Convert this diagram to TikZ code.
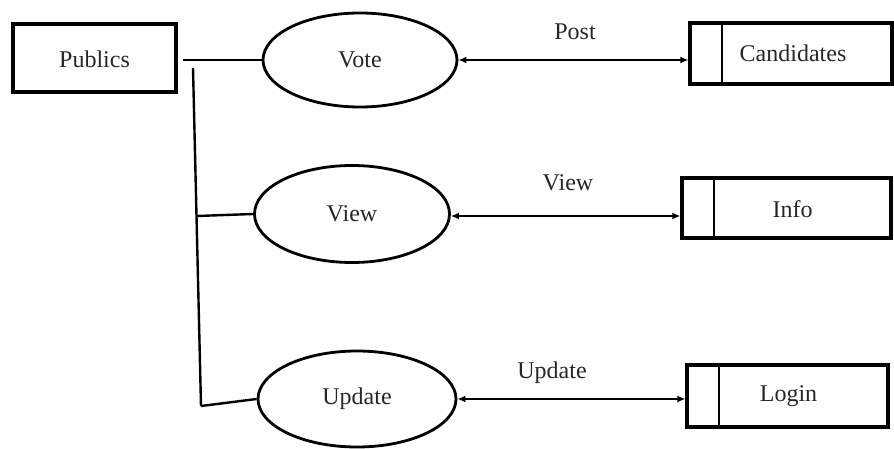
\documentclass[tikz,border=0pt]{standalone}
\usepackage{fontspec}
\setmainfont{Liberation Serif}
\usetikzlibrary{shapes.geometric,arrows.meta}
\newcommand{\lowerby}[2]{\raisebox{-#1}[\height][\depth]{#2}}
\begin{document}
\begin{tikzpicture}[x=1pt,y=-1pt,
  txt/.style={font=\fontsize{24}{26}\selectfont, text=black!85},
  entity/.style={draw, line width=3.2pt, rectangle, minimum width=#1, minimum height=68pt, inner sep=0pt, txt},
  store/.style={draw, line width=3.2pt, rectangle, inner sep=0pt, txt,
     path picture={\draw[line width=2.6pt] ([xshift=32pt]path picture bounding box.north west) -- ([xshift=32pt]path picture bounding box.south west);}},
  proc/.style={draw, line width=2.8pt, ellipse, inner sep=0pt, txt},
  conn/.style={line width=2.4pt},
  flow/.style={line width=2.2pt, {Latex[length=8pt,width=7pt]}-{Latex[length=8pt,width=7pt]}},
  lbl/.style={txt}
]
\useasboundingbox (0,0) rectangle (894,449);
\node[entity=163pt, minimum height=68pt] (pub) at (94.5,58) {\lowerby{1pt}{Publics}};
\node[proc, minimum width=194pt, minimum height=94pt] (vote) at (360,60) {Vote};
\node[proc, minimum width=195pt, minimum height=97pt] (view) at (352,214) {View};
\node[proc, minimum width=198pt, minimum height=96pt] (update) at (357,399) {Update};
\node[store, minimum width=202pt, minimum height=61pt] (cand) at (791,53.5) {\hspace*{4pt}Candidates};
\node[store, minimum width=209pt, minimum height=60pt] (info) at (786.5,208) {\hspace*{12pt}\lowerby{1pt}{Info}};
\node[store, minimum width=201pt, minimum height=62pt] (login) at (787.5,396) {\hspace*{2pt}Login};
\coordinate (j0) at (183,60);
\coordinate (t) at (193,68);
\coordinate (m) at (197,216);
\coordinate (b) at (201,406);
\draw[conn] (j0) -- (vote.west);
\draw[conn] (t) -- (b);
\draw[conn] (m) -- (view.west);
\draw[conn] (b) -- (update.west);
\draw[flow] (vote.east) -- (vote.east -| cand.west);
\draw[flow] ([yshift=-2pt]view.east) -- ([yshift=-2pt]view.east -| info.west);
\draw[flow] (update.east) -- (update.east -| login.west);
\node[lbl] (l1) at (575,32) {Post};
\node[lbl] (l2) at (568,183) {View};
\node[lbl] (l3) at (552,373) {Update};
\end{tikzpicture}
\end{document}
